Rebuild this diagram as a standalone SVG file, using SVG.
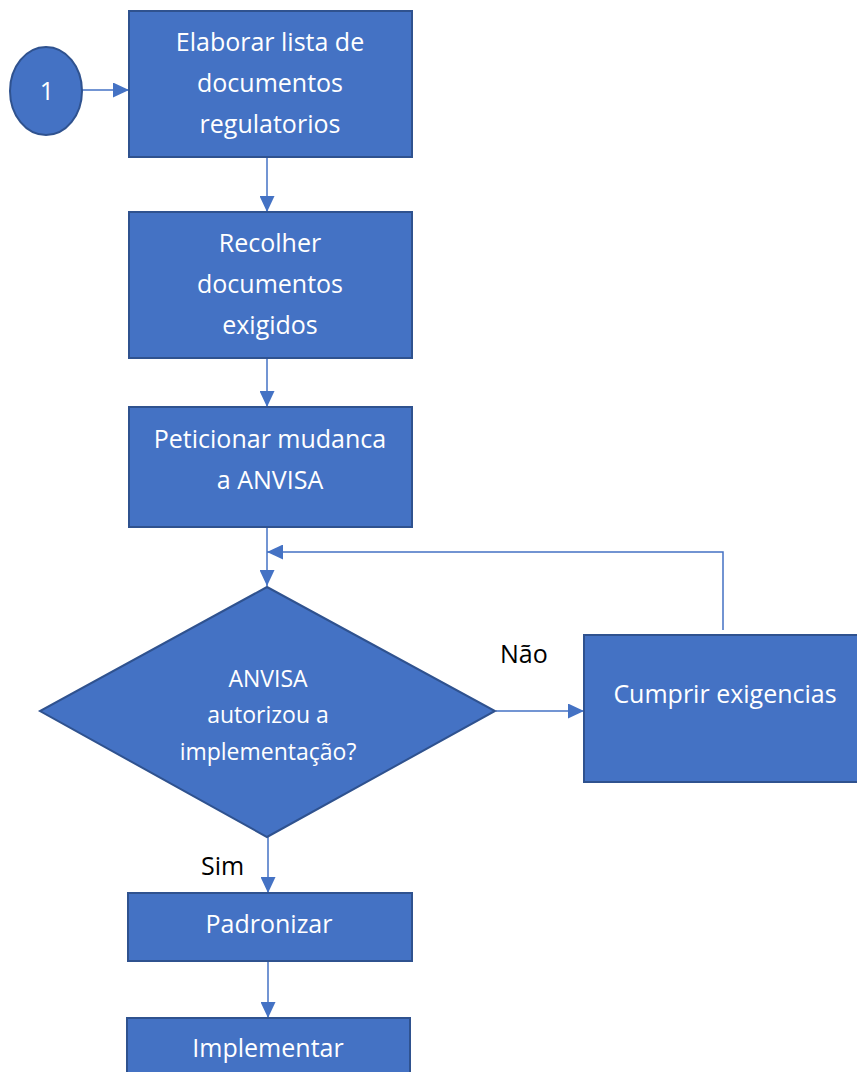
<svg xmlns="http://www.w3.org/2000/svg" width="857" height="1072" viewBox="0 0 857 1072">
<style>
.node{fill:#4472C4;stroke:#2F528F;stroke-width:2}
.t{font-family:"Open Sans","Noto Sans",sans-serif;font-size:25px;fill:#FFFFFF;text-anchor:middle}
.td{font-family:"Open Sans","Noto Sans",sans-serif;font-size:23px;fill:#FFFFFF;text-anchor:middle}
.lbl{font-family:"Open Sans","Noto Sans",sans-serif;font-size:25px;fill:#000000}
.c{fill:none;stroke:#4472C4;stroke-width:1.5}
</style>
<defs>
<marker id="ah" markerWidth="16" markerHeight="15" refX="16" refY="7.5" orient="auto" markerUnits="userSpaceOnUse">
<path d="M0,0 L16,7.5 L0,15 Z" fill="#4472C4"/>
</marker>
</defs>
<rect width="857" height="1072" fill="#FFFFFF"/>
<g id="connectors">
<line class="c" x1="82" y1="90" x2="129" y2="90" marker-end="url(#ah)"/>
<line class="c" x1="267" y1="157" x2="267" y2="212" marker-end="url(#ah)"/>
<line class="c" x1="267" y1="358" x2="267" y2="407" marker-end="url(#ah)"/>
<line class="c" x1="267" y1="527" x2="267" y2="586" marker-end="url(#ah)"/>
<line class="c" x1="496" y1="711" x2="584" y2="711" marker-end="url(#ah)"/>
<polyline class="c" points="723,630 723,552 267,552" marker-end="url(#ah)"/>
<line class="c" x1="268" y1="837" x2="268" y2="893" marker-end="url(#ah)"/>
<line class="c" x1="268" y1="961" x2="268" y2="1018" marker-end="url(#ah)"/>
<text class="lbl" x="500" y="663">Não</text>
<text class="lbl" x="201" y="875">Sim</text>
</g>
<g id="start">
<ellipse class="node" cx="46" cy="91" rx="36" ry="44"/>
<text class="t" x="47" y="100">1</text>
</g>
<g id="elaborar">
<rect class="node" x="129" y="11" width="283" height="146"/>
<text class="t" x="270" y="51">Elaborar lista de</text>
<text class="t" x="270" y="92">documentos</text>
<text class="t" x="270" y="133">regulatorios</text>
</g>
<g id="recolher">
<rect class="node" x="129" y="212" width="283" height="146"/>
<text class="t" x="270" y="252">Recolher</text>
<text class="t" x="270" y="293">documentos</text>
<text class="t" x="270" y="334">exigidos</text>
</g>
<g id="peticionar">
<rect class="node" x="129" y="407" width="283" height="120"/>
<text class="t" x="270" y="448">Peticionar mudanca</text>
<text class="t" x="270" y="489">a ANVISA</text>
</g>
<g id="decisao">
<polygon class="node" points="267,587 495,711 267,837 40,711"/>
<text class="td" x="268" y="687">ANVISA</text>
<text class="td" x="268" y="723">autorizou a</text>
<text class="td" x="268" y="760">implementação?</text>
</g>
<g id="cumprir">
<rect class="node" x="584" y="635" width="285" height="147"/>
<text class="t" x="725" y="703">Cumprir exigencias</text>
</g>
<g id="padronizar">
<rect class="node" x="128" y="893" width="284" height="68"/>
<text class="t" x="269" y="933">Padronizar</text>
</g>
<g id="implementar">
<rect class="node" x="127" y="1018" width="283" height="70"/>
<text class="t" x="268" y="1057">Implementar</text>
</g>
</svg>
